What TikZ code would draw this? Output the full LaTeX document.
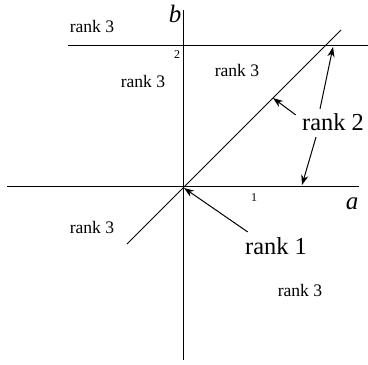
\documentclass[tikz,border=0pt]{standalone}
\usepackage{fontspec}
\setmainfont{Liberation Serif}
\usetikzlibrary{arrows.meta}
\tikzset{
  every picture/.style={line width=0.5pt},
  axis/.style={draw=black, line width=0.5pt},
  region/.style={font=\fontsize{8.8}{10}\selectfont, inner sep=0pt},
  big/.style={font=\fontsize{12.2}{14}\selectfont, inner sep=1pt},
  tick/.style={font=\fontsize{6}{7}\selectfont, inner sep=0pt},
  arrow/.style={-{Stealth[length=5pt, width=3.6pt]}, line width=0.5pt},
}
\begin{document}
\begin{tikzpicture}[x=0.5pt, y=-0.5pt]
  \useasboundingbox (0,0) rectangle (368,364);
  % axes and the line b = 2
  \draw[axis] (7,186) -- (359,186);
  \draw[axis] (183,10) -- (183,360);
  \draw[axis] (68,45) -- (368,45);
  \draw[axis] (127,244) -- (341,30);
  % axis labels and ticks
  \node[big, font=\fontsize{12.5}{14}\selectfont\itshape] (b) at (175,14) {b};
  \node[big, font=\fontsize{12.5}{14}\selectfont\itshape] (a) at (352,204) {a};
  \node[tick] (two) at (177,55) {2};
  \node[tick] (one) at (254,198) {1};
  % regions
  \node[region] (r3a) at (92,26) {rank 3};
  \node[region] (r3b) at (143,81) {rank 3};
  \node[region] (r3c) at (237,70) {rank 3};
  \node[region] (r3d) at (92,227) {rank 3};
  \node[region] (r3e) at (300,290) {rank 3};
  \node[big] (r2) at (333,122) {rank 2};
  \node[big] (r1) at (276,246) {rank 1};
  % arrow targets
  \coordinate (top) at (333,47);
  \coordinate (diag) at (273,98);
  \coordinate (haxis) at (302,185);
  \coordinate (orig) at (184,188);
  \draw[arrow] ([xshift=-6.5pt, yshift=1pt]r2.north) -- (top);
  \draw[arrow] ([xshift=-2pt, yshift=-2pt]r2.north west) -- (diag);
  \draw[arrow] ([xshift=-8.5pt, yshift=-2pt]r2.south) -- (haxis);
  \draw[arrow] ([xshift=2.5pt, yshift=1.5pt]r1.north west) -- (orig);
\end{tikzpicture}
\end{document}
